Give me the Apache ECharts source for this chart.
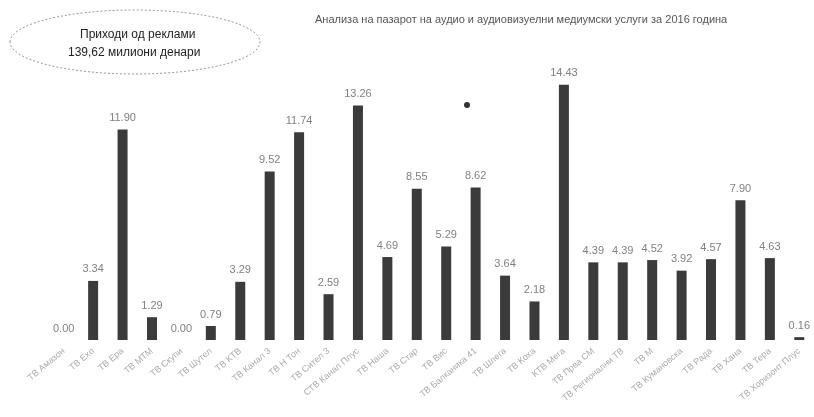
<!DOCTYPE html>
<html>
<head>
<meta charset="utf-8">
<script src="https://cdn.jsdelivr.net/npm/echarts@6/dist/echarts.min.js"></script>
<style>html,body{margin:0;padding:0;background:#fff}#c{width:814px;height:417px}</style>
</head>
<body>
<div id="c"></div>
<script>
const categories = ["ТВ Амазон","ТВ Ехо","ТВ Ера","ТВ МТМ","ТВ Скупи","ТВ Шутел","ТВ КТВ","ТВ Канал 3","ТВ Н Тон","ТВ Сител 3","СТВ Канал Плус","ТВ Наша","ТВ Стар","ТВ Вис","ТВ Балканика 41","ТВ Шлега","ТВ Коха","КТВ Мега","ТВ Прва СМ","ТВ Регионални ТВ","ТВ М","ТВ Кумановска","ТВ Рада","ТВ Хана","ТВ Тера","ТВ Хоризонт Плус"];
const values = [0.00,3.34,11.90,1.29,0.00,0.79,3.29,9.52,11.74,2.59,13.26,4.69,8.55,5.29,8.62,3.64,2.18,14.43,4.39,4.39,4.52,3.92,4.57,7.90,4.63,0.16];
const titleText = "Анализа на пазарот на аудио и аудиовизуелни медиумски услуги за 2016 година";
const calloutLines = ["Приходи од реклами","139,62 милиони денари"];

const chart = echarts.init(document.getElementById('c'));
chart.setOption({
  backgroundColor: '#ffffff',
  animation: false,
  title: {
    text: titleText, left: 310, top: 9,
    textStyle: {fontFamily: 'Liberation Sans', fontSize: 11, fontWeight: 'normal', color: '#555'}
  },
  grid: {left: 49, right: 0, top: 57, bottom: 77},
  xAxis: {
    type: 'category', data: categories,
    axisLine: {show: false}, axisTick: {show: false},
    axisLabel: {rotate: 40, interval: 0, fontSize: 9, color: '#aaa', margin: 10, fontFamily: 'Liberation Sans'}
  },
  yAxis: {
    type: 'value', min: 0, max: 16,
    axisLine: {show: false}, axisTick: {show: false}, axisLabel: {show: false}, splitLine: {show: false}
  },
  series: [{
    type: 'bar', data: values, barWidth: 10,
    itemStyle: {color: '#3b3b3b'},
    label: {show: true, position: 'top', distance: 6, formatter: p => p.value.toFixed(2),
      fontSize: 11, color: '#808080', fontFamily: 'Liberation Sans'}
  }],
  graphic: [
    {type: 'ellipse', shape: {cx: 135, cy: 42, rx: 125, ry: 32},
      style: {fill: 'none', stroke: '#999', lineWidth: 1, lineDash: [2, 2]}},
    {type: 'text', left: 80, top: 29, style: {text: calloutLines[0], fontSize: 12, fill: '#222', fontFamily: 'Liberation Sans', fontWeight: 500}},
    {type: 'text', left: 68, top: 47, style: {text: calloutLines[1], fontSize: 12, fill: '#222', fontFamily: 'Liberation Sans', fontWeight: 500}},
    {type: 'circle', shape: {cx: 467, cy: 105, r: 3}, style: {fill: '#333'}}
  ]
});
</script>
</body>
</html>
